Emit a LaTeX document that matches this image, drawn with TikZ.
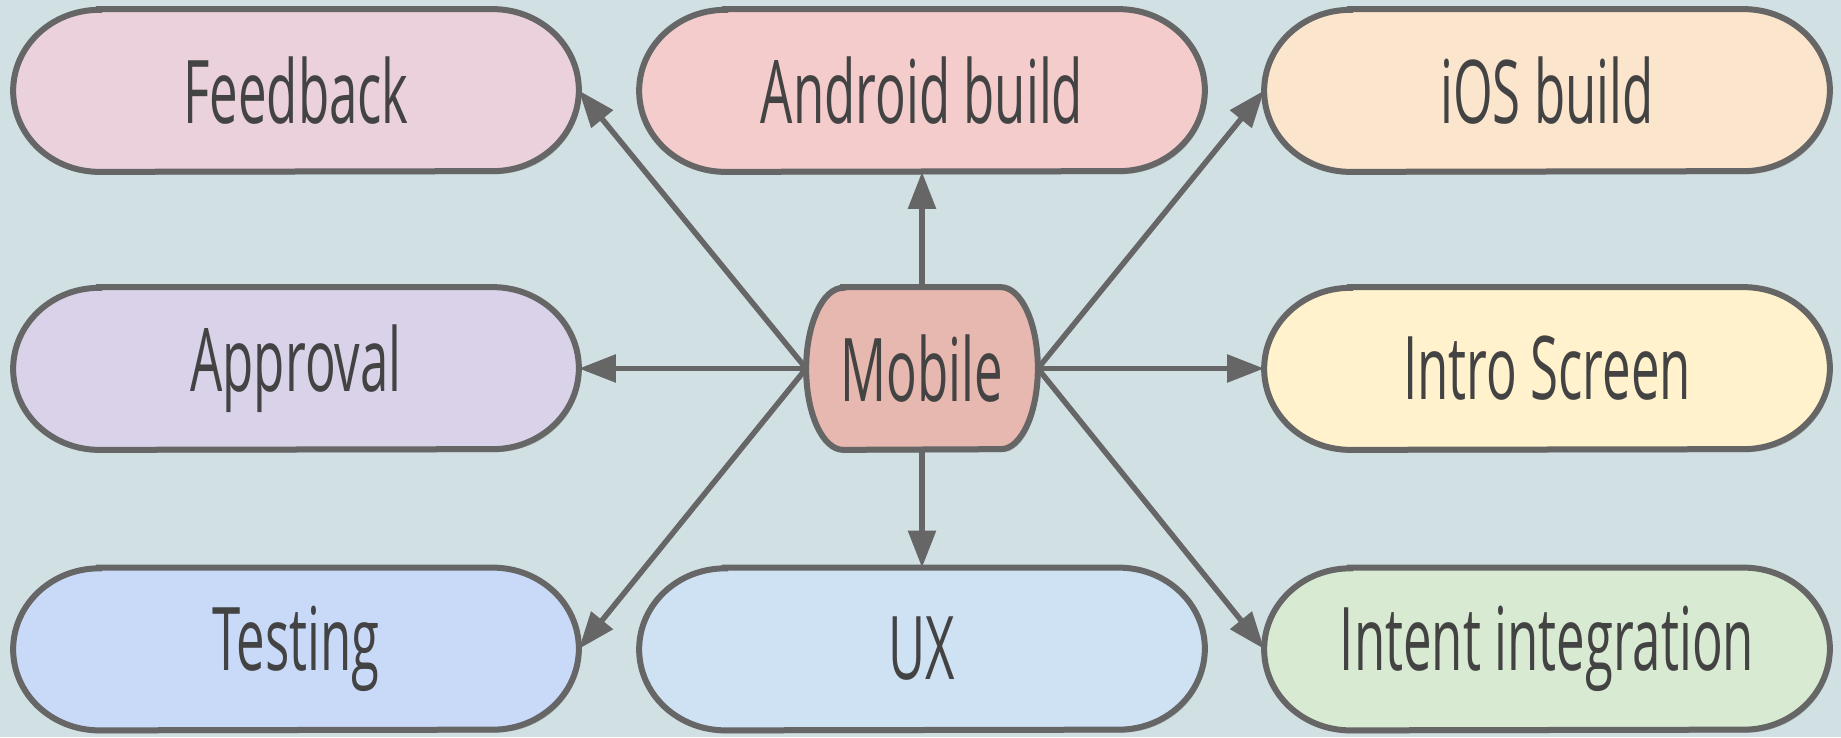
\documentclass[tikz,border=0pt]{standalone}
\usepackage{fontspec}
\setmainfont{Open Sans}[FakeStretch=0.58]
\usetikzlibrary{arrows.meta,backgrounds,shadows}
\definecolor{bgcol}{HTML}{D0E0E3}
\definecolor{rimcol}{HTML}{666666}
\definecolor{txtcol}{HTML}{434343}
\definecolor{fbcol}{HTML}{EAD1DC}
\definecolor{andcol}{HTML}{F4CCCC}
\definecolor{ioscol}{HTML}{FCE5CD}
\definecolor{apcol}{HTML}{D9D2E9}
\definecolor{incol}{HTML}{FFF2CC}
\definecolor{tecol}{HTML}{C9DAF8}
\definecolor{uxcol}{HTML}{CFE2F3}
\definecolor{itcol}{HTML}{D9EAD3}
\definecolor{mobcol}{HTML}{E6B8AF}
\begin{document}
\begin{tikzpicture}[font=\fontsize{50}{60}\selectfont, line join=round, >={Triangle[length=0.74cm,width=0.54cm]},
	box/.style={minimum width=11.3cm, minimum height=3.24cm, inner sep=0pt, text=txtcol},
	mob/.style={box, minimum width=4.62cm},
	rim/.style={draw=rimcol, line width=0.12cm, drop shadow={shadow xshift=0.04cm, shadow yshift=-0.06cm, opacity=0.3, fill=black!70}},
	conn/.style={->, draw=rimcol, line width=0.11cm}]
	\useasboundingbox (0,0) rectangle (36.82,14.74);
	\node[mob] (mobile) at (18.44,7.37) {Mobile};
	\foreach \n/\x/\y/\t in {feedback/5.92/12.93/Feedback, android/18.44/12.93/Android build, ios/30.94/12.93/iOS build,
		approval/5.92/7.37/Approval, intro/30.94/7.37/Intro Screen,
		testing/5.92/1.76/Testing, ux/18.44/1.76/UX, intent/30.94/1.76/Intent integration}
		\node[box] (\n) at (\x,\y) {\t};
	\begin{pgfonlayer}{background}
		\fill[bgcol] (0,0) rectangle (36.82,14.74);
		\foreach \n/\c/\r in {feedback/fbcol/1.72cm, android/andcol/1.72cm, ios/ioscol/1.72cm, approval/apcol/1.72cm,
			intro/incol/1.72cm, testing/tecol/1.72cm, ux/uxcol/1.72cm, intent/itcol/1.72cm, mobile/mobcol/0.74cm}
			\draw[rim, fill=\c] ([xshift=\r]\n.north west) -- ([xshift=-\r]\n.north east)
				arc[start angle=90, end angle=-90, x radius=\r, y radius=1.62cm] -- ([xshift=\r]\n.south west)
				arc[start angle=270, end angle=90, x radius=\r, y radius=1.62cm] -- cycle;
	\end{pgfonlayer}
	\foreach \n/\a/\b in {android/north/south, ux/south/north, approval/west/east, intro/east/west,
		feedback/west/east, testing/west/east, ios/east/west, intent/east/west}
		\draw[conn] (mobile.\a) -- (\n.\b);
\end{tikzpicture}
\end{document}
